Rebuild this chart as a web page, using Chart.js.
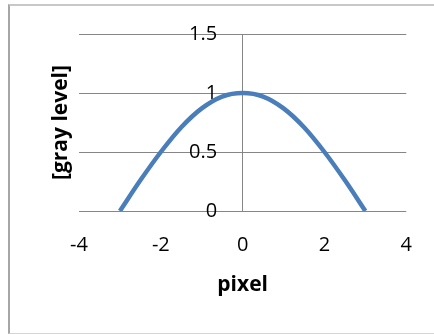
<!DOCTYPE html>
<html>
<head>
<meta charset="utf-8">
<script src="https://cdn.jsdelivr.net/npm/chart.js@4"></script>
<style>
  body { margin: 0; background: #fff; }
  #frame {
    position: absolute; left: 8px; top: 4px; width: 500px; height: 327px;
    border-left: 2px solid #a6a6a6; border-top: 2px solid #c8c8c8; border-bottom: 1px solid #d4d4d4;
  }
  #myChart { position: absolute; left: 0; top: 0; }
</style>
</head>
<body>
<div id="frame"></div>
<canvas id="myChart" width="434" height="334"></canvas>
<script>
// values
var pixelX = [-3, -2.5, -2, -1.5, -1, -0.5, 0, 0.5, 1, 1.5, 2, 2.5, 3]
var grayLevel = [0, 0.26, 0.5, 0.71, 0.87, 0.97, 1, 0.97, 0.87, 0.71, 0.5, 0.26, 0]

// axis ticks
var xTicks = [-4, -2, 0, 2, 4]
var yTicks = [0, 0.5, 1, 1.5]

var points = []
for (var i = 0; i < pixelX.length; i++) {
  points.push({ x: pixelX[i], y: grayLevel[i] })
}

var tickFont = { family: "'Open Sans'", size: 20 }
var titleFont = { family: "'Open Sans'", size: 21, weight: 'bold' }

var ctx = document.getElementById('myChart').getContext('2d')
var chart = new Chart(ctx, {
  type: 'scatter',
  data: {
    datasets: [{
      data: points,
      showLine: true,
      borderColor: '#4a7ebb',
      borderWidth: 4.5,
      pointRadius: 0,
      cubicInterpolationMode: 'monotone'
    }]
  },
  options: {
    responsive: false,
    animation: false,
    devicePixelRatio: 1,
    layout: { padding: { top: 34, right: 26, left: 0, bottom: 0 } },
    plugins: { legend: { display: false }, tooltip: { enabled: false } },
    scales: {
      x: {
        type: 'linear',
        position: 'bottom',
        min: xTicks[0],
        max: xTicks[xTicks.length - 1],
        afterBuildTicks: function (scale) { scale.ticks = xTicks.map(function (v) { return { value: v } }) },
        afterFit: function (scale) { scale.height = 123 },
        grid: {
          drawTicks: false,
          // only the line at x = 0 shows (the vertical axis)
          color: function (c) { return c.tick && c.tick.value === 0 ? '#868686' : 'rgba(0,0,0,0)' }
        },
        border: { display: false },
        ticks: { font: tickFont, color: '#000', padding: 22, callback: function (v) { return String(v) } },
        title: { display: true, text: 'pixel', font: titleFont, color: '#000', padding: { top: 0, bottom: 36 } }
      },
      y: {
        type: 'linear',
        position: 'left',
        min: yTicks[0],
        max: yTicks[yTicks.length - 1],
        afterBuildTicks: function (scale) { scale.ticks = yTicks.map(function (v) { return { value: v } }) },
        afterFit: function (scale) {
          scale.width = 79
          // the big label padding below must not push the plot down
          scale.paddingTop = 12
          scale.paddingBottom = 12
        },
        grid: { drawTicks: false, color: '#868686' },
        border: { display: false },
        // mirrored labels, pushed right so they end just left of the x = 0 line
        ticks: { font: tickFont, color: '#000', mirror: true, crossAlign: 'far', padding: 110, callback: function (v) { return String(v) } },
        title: { display: true, text: '[gray level]', font: titleFont, color: '#000', padding: { top: 48, bottom: 0 } }
      }
    }
  }
})
</script>
</body>
</html>
